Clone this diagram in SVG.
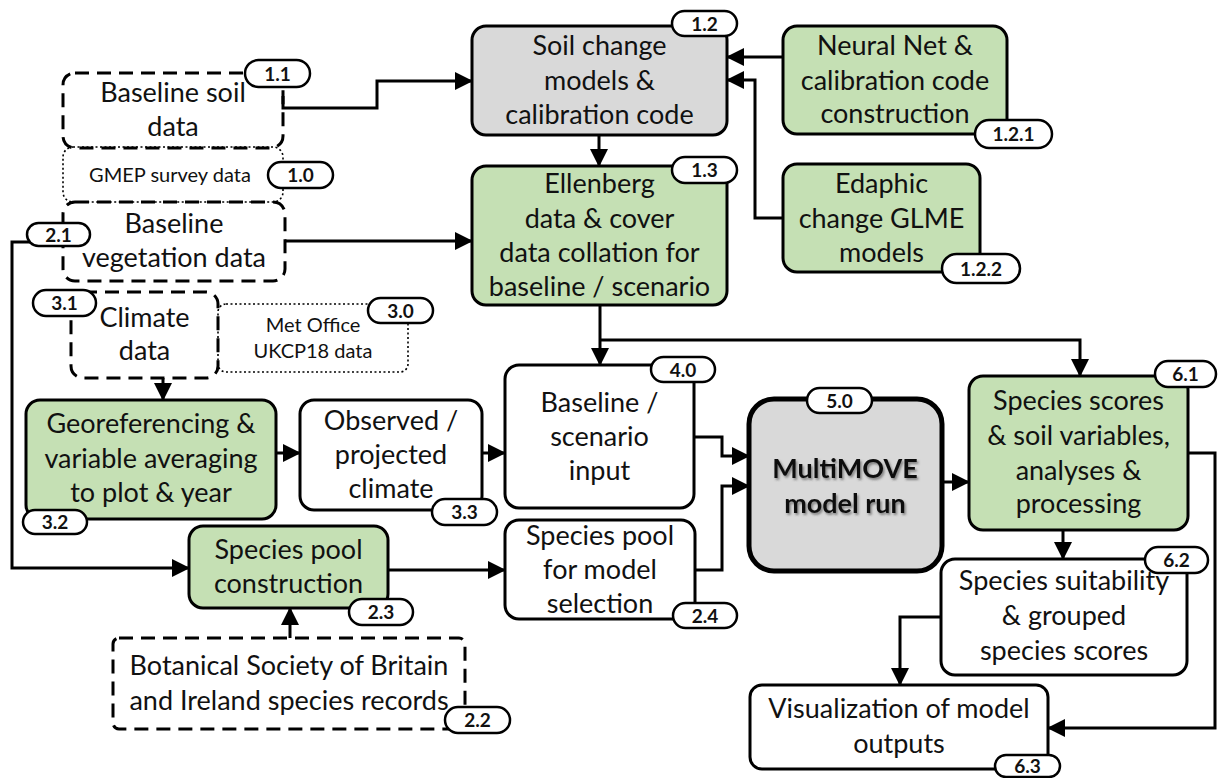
<svg xmlns="http://www.w3.org/2000/svg" width="1218" height="778" viewBox="0 0 1218 778">
<defs>
<style>
.t{font-family:Lato,"Open Sans",sans-serif;font-size:27px;fill:#111;text-anchor:middle}
.s{font-family:Lato,"Open Sans",sans-serif;font-size:20px;fill:#111;text-anchor:middle}
.b{font-family:Lato,"Open Sans",sans-serif;font-size:27px;font-weight:bold;fill:#111;text-anchor:middle}
.p{font-family:Lato,"Open Sans",sans-serif;font-size:19px;font-weight:bold;fill:#111;text-anchor:middle}
.box{stroke:#000;stroke-width:3}
.g{fill:#c5e0b4}
.gr{fill:#d9d9d9}
.w{fill:#fff}
.dash{fill:none;stroke:#000;stroke-width:3;stroke-dasharray:14 8}
.dot{fill:none;stroke:#000;stroke-width:1.6;stroke-dasharray:2 2.5}
.pill{fill:#fff;stroke:#000;stroke-width:2.5}
.c{fill:none;stroke:#000;stroke-width:3}
.a{marker-end:url(#ah)}
</style>
<marker id="ah" markerUnits="userSpaceOnUse" markerWidth="18" markerHeight="18" refX="17" refY="9" orient="auto">
<path d="M0,0 L18,9 L0,18 z" fill="#000"/>
</marker>
<filter id="sh" x="-10%" y="-20%" width="130%" height="150%">
<feDropShadow dx="1.5" dy="2" stdDeviation="1.3" flood-color="#444" flood-opacity="0.6"/>
</filter>
</defs>
<rect width="1218" height="778" fill="#fff"/>

<g id="connectors">
<path class="c a" d="M283,96 V108 H377 V81 H472"/>
<path class="c a" d="M285,241 H472"/>
<path class="c a" d="M599,135 V166"/>
<path class="c a" d="M783,57 H727"/>
<path class="c a" d="M783,218 H755 V80 H727"/>
<path class="c a" d="M600,305 V365"/>
<path class="c a" d="M600,340 H1080 V376"/>
<path class="c a" d="M163,378 V400"/>
<path class="c a" d="M276,453 H300"/>
<path class="c a" d="M482,453 H505"/>
<path class="c a" d="M694,437 H722 V456 H749"/>
<path class="c a" d="M695,570 H722 V486 H749"/>
<path class="c a" d="M942,482 H969"/>
<path class="c a" d="M1063,530 V559"/>
<path class="c a" d="M1188,453 H1215 V728 H1048"/>
<path class="c a" d="M941,617 H900 V685"/>
<path class="c a" d="M32,242 H12 V568 H189"/>
<path class="c a" d="M290,638 V608"/>
<path class="c a" d="M388,570 H505"/>
</g>

<g id="n1-1">
<rect class="dash" x="63" y="73" width="220" height="75" rx="12"/>
<text class="t" x="173" y="102">Baseline soil</text>
<text class="t" x="173" y="136">data</text>
<rect class="pill" x="245" y="60" width="65" height="27" rx="13.5"/>
<text class="p" x="277.5" y="80.5">1.1</text>
</g>

<g id="n2-1">
<rect class="dash" x="63" y="202" width="222" height="79" rx="12"/>
<text class="t" x="174" y="233">Baseline</text>
<text class="t" x="174" y="267">vegetation data</text>
<rect class="pill" x="27" y="223" width="63" height="23" rx="11.5"/>
<text class="p" x="58.5" y="241.5">2.1</text>
</g>

<g id="n1-0">
<rect class="dot" x="63" y="147" width="220" height="55" rx="10"/>
<text class="s" x="170" y="182">GMEP survey data</text>
<rect class="pill" x="268" y="162" width="65" height="26" rx="13"/>
<text class="p" x="300.5" y="182">1.0</text>
</g>

<g id="n3-1">
<rect class="dash" x="71" y="292" width="147" height="86" rx="12"/>
<text class="t" x="144.5" y="327">Climate</text>
<text class="t" x="144.5" y="360">data</text>
<rect class="pill" x="33" y="290" width="63" height="26" rx="13"/>
<text class="p" x="64.5" y="310">3.1</text>
</g>

<g id="n3-0">
<rect class="dot" x="218" y="304" width="190" height="68" rx="8"/>
<text class="s" x="313" y="332">Met Office</text>
<text class="s" x="313" y="358">UKCP18 data</text>
<rect class="pill" x="368" y="298" width="65" height="25" rx="12.5"/>
<text class="p" x="400.5" y="317.5">3.0</text>
</g>

<g id="n1-2">
<rect class="box gr" x="472" y="26" width="255" height="109" rx="14"/>
<text class="t" x="599.5" y="55">Soil change</text>
<text class="t" x="599.5" y="90">models &amp;</text>
<text class="t" x="599.5" y="124">calibration code</text>
<rect class="pill" x="672" y="11" width="65" height="25" rx="12.5"/>
<text class="p" x="704.5" y="30.5">1.2</text>
</g>

<g id="n1-3">
<rect class="box g" x="472" y="166" width="255" height="139" rx="14"/>
<text class="t" x="599.5" y="193">Ellenberg</text>
<text class="t" x="599.5" y="228">data &amp; cover</text>
<text class="t" x="599.5" y="262">data collation for</text>
<text class="t" x="599.5" y="296">baseline / scenario</text>
<rect class="pill" x="672" y="157" width="65" height="26" rx="13"/>
<text class="p" x="704.5" y="177">1.3</text>
</g>

<g id="n1-2-1">
<rect class="box g" x="783" y="26" width="224" height="108" rx="14"/>
<text class="t" x="895" y="55">Neural Net &amp;</text>
<text class="t" x="895" y="90">calibration code</text>
<text class="t" x="895" y="123">construction</text>
<rect class="pill" x="975" y="120" width="77" height="28" rx="14"/>
<text class="p" x="1013.5" y="141">1.2.1</text>
</g>

<g id="n1-2-2">
<rect class="box g" x="783" y="164" width="197" height="108" rx="14"/>
<text class="t" x="881.5" y="193">Edaphic</text>
<text class="t" x="881.5" y="228">change GLME</text>
<text class="t" x="881.5" y="262">models</text>
<rect class="pill" x="942" y="254" width="78" height="29" rx="14.5"/>
<text class="p" x="981" y="275.5">1.2.2</text>
</g>

<g id="n3-2">
<rect class="box g" x="26" y="400" width="250" height="119" rx="14"/>
<text class="t" x="151" y="433">Georeferencing &amp;</text>
<text class="t" x="151" y="468">variable averaging</text>
<text class="t" x="151" y="502">to plot &amp; year</text>
<rect class="pill" x="23" y="510" width="64" height="24" rx="12"/>
<text class="p" x="55" y="529">3.2</text>
</g>

<g id="n3-3">
<rect class="box w" x="300" y="400" width="182" height="110" rx="14"/>
<text class="t" x="391" y="430">Observed /</text>
<text class="t" x="391" y="464">projected</text>
<text class="t" x="391" y="498">climate</text>
<rect class="pill" x="432" y="499" width="65" height="26" rx="13"/>
<text class="p" x="464.5" y="519">3.3</text>
</g>

<g id="n4-0">
<rect class="box w" x="505" y="365" width="189" height="143" rx="14"/>
<text class="t" x="599.5" y="412">Baseline /</text>
<text class="t" x="599.5" y="446">scenario</text>
<text class="t" x="599.5" y="480">input</text>
<rect class="pill" x="651" y="357" width="64" height="25" rx="12.5"/>
<text class="p" x="683" y="376.5">4.0</text>
</g>

<g id="n2-4">
<rect class="box w" x="505" y="520" width="190" height="99" rx="14"/>
<text class="t" x="600" y="545">Species pool</text>
<text class="t" x="600" y="579">for model</text>
<text class="t" x="600" y="613">selection</text>
<rect class="pill" x="673" y="603" width="64" height="25" rx="12.5"/>
<text class="p" x="705" y="622.5">2.4</text>
</g>

<g id="n5-0">
<rect class="gr" x="749" y="399" width="193" height="172" rx="25" stroke="#000" stroke-width="5"/>
<g filter="url(#sh)">
<text class="b" x="845" y="478">MultiMOVE</text>
<text class="b" x="845" y="513">model run</text>
</g>
<rect class="pill" x="807" y="388" width="65" height="25" rx="12.5"/>
<text class="p" x="839.5" y="407.5">5.0</text>
</g>

<g id="n6-1">
<rect class="box g" x="969" y="376" width="219" height="154" rx="14"/>
<text class="t" x="1078.5" y="410">Species scores</text>
<text class="t" x="1078.5" y="445">&amp; soil variables,</text>
<text class="t" x="1078.5" y="480">analyses &amp;</text>
<text class="t" x="1078.5" y="513">processing</text>
<rect class="pill" x="1155" y="361" width="61" height="26" rx="13"/>
<text class="p" x="1185.5" y="381">6.1</text>
</g>

<g id="n6-2">
<rect class="box w" x="941" y="559" width="246" height="116" rx="14"/>
<text class="t" x="1064" y="590">Species suitability</text>
<text class="t" x="1064" y="625">&amp; grouped</text>
<text class="t" x="1064" y="660">species scores</text>
<rect class="pill" x="1145" y="547" width="63" height="26" rx="13"/>
<text class="p" x="1176.5" y="567">6.2</text>
</g>

<g id="n6-3">
<rect class="box w" x="750" y="685" width="298" height="84" rx="12"/>
<text class="t" x="899" y="718">Visualization of model</text>
<text class="t" x="899" y="753">outputs</text>
<rect class="pill" x="995" y="755" width="65" height="22" rx="11"/>
<text class="p" x="1027.5" y="773">6.3</text>
</g>

<g id="n2-3">
<rect class="box g" x="189" y="526" width="199" height="82" rx="14"/>
<text class="t" x="288.5" y="559">Species pool</text>
<text class="t" x="288.5" y="593">construction</text>
<rect class="pill" x="349" y="599" width="64" height="26" rx="13"/>
<text class="p" x="381" y="619">2.3</text>
</g>

<g id="n2-2">
<rect class="dash" x="113" y="638" width="352" height="91" rx="6"/>
<text class="t" x="289" y="675">Botanical Society of Britain</text>
<text class="t" x="289" y="710">and Ireland species records</text>
<rect class="pill" x="445" y="707" width="65" height="26" rx="13"/>
<text class="p" x="477.5" y="727">2.2</text>
</g>
</svg>
